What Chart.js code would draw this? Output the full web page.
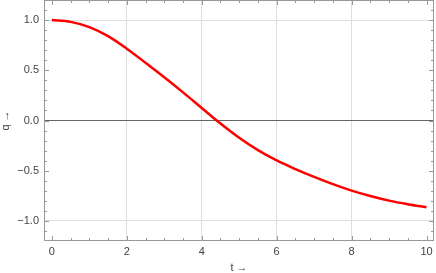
<!DOCTYPE html>
<html><head><meta charset="utf-8">
<script src="https://cdn.jsdelivr.net/npm/chart.js@4/dist/chart.umd.min.js"></script>
<style>html,body{margin:0;padding:0;background:#fff}#wrap{width:436px;height:273px}</style>
</head><body><div id="wrap"><canvas id="c" width="436" height="273"></canvas></div>
<script>
const tValues = [0, 0.5, 1, 1.5, 2, 2.5, 3, 3.5, 4, 4.5, 5, 5.5, 6, 6.5, 7, 7.5, 8, 8.5, 9, 9.5, 10];
const qValues = [1.0, 0.982, 0.93, 0.84, 0.715, 0.575, 0.43, 0.28, 0.125, -0.03, -0.172, -0.295, -0.398, -0.484, -0.562, -0.634, -0.698, -0.752, -0.798, -0.834, -0.864];
const xTickValues = [0, 2, 4, 6, 8, 10];
const yTickValues = [-1, -0.5, 0, 0.5, 1];
const xGridValues = [2, 4, 6, 8];
const yGridValues = [-1, 1];
const xMinorStep = 0.5;
const yMinorStep = 0.1;

const FONT = {family: '"Liberation Sans", Arial, sans-serif', size: 11};
const TXT = '#444';
const FRAME = '#999';

const noPad = s => { s.paddingTop = 0; s.paddingBottom = 0; s.paddingLeft = 0; s.paddingRight = 0; };

const framePlugin = {
  id: 'frame',
  afterDatasetsDraw(chart) {
    const {ctx, chartArea: a, scales: {x, y}} = chart;
    ctx.save();
    ctx.strokeStyle = FRAME;
    ctx.lineWidth = 1;
    ctx.strokeRect(Math.round(a.left) + 0.5, Math.round(a.top) + 0.5, Math.round(a.right - a.left) - 1, Math.round(a.bottom - a.top) - 1);
    ctx.beginPath();
    for (let i = 0; i * xMinorStep <= x.max + 1e-9; i++) {
      const v = i * xMinorStep;
      if (v < x.min) continue;
      const major = xTickValues.includes(v);
      const len = major ? 5 : 3;
      const px = Math.round(x.getPixelForValue(v)) + 0.5;
      ctx.moveTo(px, a.bottom); ctx.lineTo(px, a.bottom - len);
      ctx.moveTo(px, a.top); ctx.lineTo(px, a.top + len);
    }
    for (let i = Math.ceil(y.min / yMinorStep - 1e-9); i * yMinorStep <= y.max + 1e-9; i++) {
      const v = Math.round(i * yMinorStep * 10) / 10;
      const major = Math.abs(v * 2 - Math.round(v * 2)) < 1e-9;
      const len = major ? 5 : 3;
      const py = Math.round(y.getPixelForValue(v)) + 0.5;
      if (py <= a.top + 1 || py >= a.bottom - 1) continue;
      ctx.moveTo(a.left, py); ctx.lineTo(a.left + len, py);
      ctx.moveTo(a.right, py); ctx.lineTo(a.right - len, py);
    }
    ctx.stroke();
    ctx.restore();
  }
};

new Chart(document.getElementById('c'), {
  type: 'line',
  data: {
    datasets: [{
      data: tValues.map((t, i) => ({x: t, y: qValues[i]})),
      borderColor: '#ff0000',
      borderWidth: 2.5,
      pointRadius: 0,
      cubicInterpolationMode: 'monotone',
      fill: false
    }]
  },
  options: {
    responsive: false,
    animation: false,
    devicePixelRatio: 1,
    layout: {padding: {top: 0, right: 2, left: 0, bottom: 0}},
    plugins: {legend: {display: false}, tooltip: {enabled: false}},
    scales: {
      x: {
        type: 'linear',
        min: -0.21,
        max: 10.2,
        afterBuildTicks: s => { s.ticks = xTickValues.map(v => ({value: v})); },
        afterFit: s => { s.height = 32; noPad(s); },
        border: {display: false},
        grid: {
          drawTicks: false,
          color: c => (c.tick && xGridValues.includes(c.tick.value)) ? '#dedede' : 'rgba(0,0,0,0)'
        },
        ticks: {font: FONT, color: TXT, padding: 4, maxRotation: 0, callback: v => String(v)},
        title: {display: true, text: 't →', font: {...FONT, lineHeight: 1}, color: TXT, padding: {top: 0, bottom: 0}}
      },
      y: {
        type: 'linear',
        min: -1.2,
        max: 1.2,
        afterBuildTicks: s => { s.ticks = yTickValues.map(v => ({value: v})); },
        afterFit: s => { s.width = 44; noPad(s); },
        border: {display: false},
        grid: {
          drawTicks: false,
          color: c => {
            if (!c.tick) return 'rgba(0,0,0,0)';
            if (c.tick.value === 0) return '#666';
            if (yGridValues.includes(c.tick.value)) return '#dedede';
            return 'rgba(0,0,0,0)';
          }
        },
        ticks: {font: FONT, color: TXT, padding: 5, callback: v => v.toFixed(1).replace('-', '\u2212')},
        title: {display: true, text: 'q →', font: {...FONT, lineHeight: 1}, color: TXT, padding: {top: 0, bottom: 0}}
      }
    }
  },
  plugins: [framePlugin]
});
</script>
</body></html>
